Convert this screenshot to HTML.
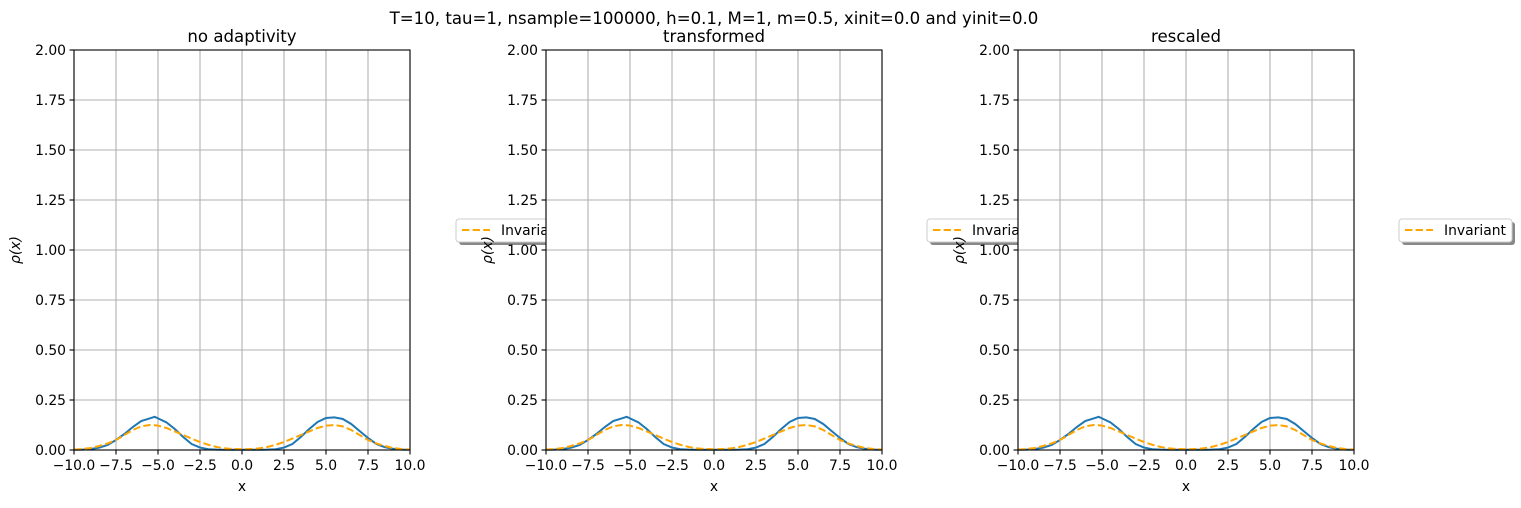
<!DOCTYPE html>
<html><head><meta charset="utf-8"><style>
body{margin:0;background:#fff;}
svg{font-family:"DejaVu Sans","Liberation Sans",sans-serif;}
</style></head><body>
<svg id="fig" width="1521" height="503" xmlns="http://www.w3.org/2000/svg">
<rect width="1521" height="503" fill="#fff"/>
<text x="714" y="24" font-size="16.6" text-anchor="middle">T=10, tau=1, nsample=100000, h=0.1, M=1, m=0.5, xinit=0.0 and yinit=0.0</text>
</svg>
<script>
const titles=["no adaptivity","transformed","rescaled"];
const xTicks=[-10,-7.5,-5,-2.5,0,2.5,5,7.5,10];
const xTickLabels=["−10.0","−7.5","−5.0","−2.5","0.0","2.5","5.0","7.5","10.0"];
const yTicks=[0,0.25,0.5,0.75,1,1.25,1.5,1.75,2];
const yTickLabels=["0.00","0.25","0.50","0.75","1.00","1.25","1.50","1.75","2.00"];
const xs=[-10,-9.5,-9,-8.5,-8,-7.5,-7,-6.5,-6,-5.5,-5.2,-5,-4.5,-4,-3.5,-3,-2.5,-2,-1.5,-1,-0.5,0,0.5,1,1.5,2,2.5,3,3.5,4,4.5,5,5.5,6,6.5,7,7.5,8,8.5,9,9.5,10];
const blue=[0.001,0.002,0.005,0.012,0.025,0.05,0.08,0.115,0.145,0.158,0.166,0.158,0.138,0.105,0.065,0.03,0.012,0.004,0.002,0.001,0.001,0.001,0.001,0.001,0.002,0.004,0.012,0.03,0.065,0.105,0.14,0.16,0.163,0.155,0.13,0.095,0.06,0.03,0.014,0.006,0.002,0.001];
const orange=[0.002,0.005,0.01,0.02,0.033,0.05,0.075,0.1,0.118,0.125,0.124,0.122,0.11,0.093,0.075,0.057,0.04,0.026,0.015,0.008,0.005,0.004,0.005,0.008,0.015,0.026,0.04,0.057,0.075,0.093,0.11,0.122,0.125,0.118,0.1,0.075,0.05,0.033,0.02,0.01,0.005,0.002];
const lefts=[74,546,1018];
const W=336,T=50,B=450;
const NS="http://www.w3.org/2000/svg";
const svg=document.getElementById('fig');
function mk(tag,at,parent){const e=document.createElementNS(NS,tag);for(const k in at)e.setAttribute(k,at[k]);(parent||svg).appendChild(e);return e;}
const legendX=[456,927,1399];
lefts.forEach((L,i)=>{
  const sx=v=>L+(v+10)/20*W, sy=v=>B-(v/2)*(B-T);
  const g=mk('g',{});
  
  
  mk('rect',{x:L,y:T,width:W,height:B-T,fill:'#fff'},g);
  xTicks.forEach((t,j)=>{
    mk('line',{x1:sx(t),x2:sx(t),y1:T,y2:B,stroke:'#b0b0b0','stroke-width':1.1},g);
    mk('line',{x1:sx(t),x2:sx(t),y1:B,y2:B+4.5,stroke:'#000','stroke-width':1.1},g);
    const tx=mk('text',{x:sx(t),y:B+20,'font-size':13.9,'text-anchor':'middle'},g);tx.textContent=xTickLabels[j];
    
    
  });
  yTicks.forEach((t,j)=>{
    mk('line',{x1:L,x2:L+W,y1:sy(t),y2:sy(t),stroke:'#b0b0b0','stroke-width':1.1},g);
    mk('line',{x1:L-4.5,x2:L,y1:sy(t),y2:sy(t),stroke:'#000','stroke-width':1.1},g);
    const tx=mk('text',{x:L-8,y:sy(t)+5,'font-size':13.9,'text-anchor':'end'},g);tx.textContent=yTickLabels[j];
    
    
  });
  const pb=mk('polyline',{points:xs.map((x,k)=>sx(x)+','+sy(blue[k])).join(' '),fill:'none',stroke:'#1f77b4','stroke-width':2},g);
  
  
  const po=mk('polyline',{points:xs.map((x,k)=>sx(x)+','+sy(orange[k])).join(' '),fill:'none',stroke:'orange','stroke-width':2,'stroke-dasharray':'7.4,3.2'},g);
  
  
  mk('rect',{x:L,y:T,width:W,height:B-T,fill:'none',stroke:'#000','stroke-width':1.1},g);
  const tt=mk('text',{x:L+W/2,y:T-8,'font-size':16.6,'text-anchor':'middle'},g);tt.textContent=titles[i];
  
  
  const xl=mk('text',{x:L+W/2,y:B+41,'font-size':13.9,'text-anchor':'middle'},g);xl.textContent='x';
  
  
  const yl=mk('text',{x:0,y:0,'font-size':13.9,'text-anchor':'middle',transform:`translate(${L-54},250) rotate(-90)`},g);yl.textContent='ρ(x)';
  yl.setAttribute('font-style','italic');
  
  
  const lg=mk('g',{});
  
  
  const lx=legendX[i];
  mk('rect',{x:lx+3,y:222,width:113,height:23,rx:3,fill:'#888'},lg);
  mk('rect',{x:lx,y:219,width:113,height:23,rx:3,fill:'#fff',stroke:'#ccc'},lg);
  mk('line',{x1:lx+6,x2:lx+34,y1:230,y2:230,stroke:'orange','stroke-width':2,'stroke-dasharray':'7.4,3.2'},lg);
  const lt=mk('text',{x:lx+45,y:235,'font-size':13.9},lg);lt.textContent='Invariant';
});
</script>
</body></html>
